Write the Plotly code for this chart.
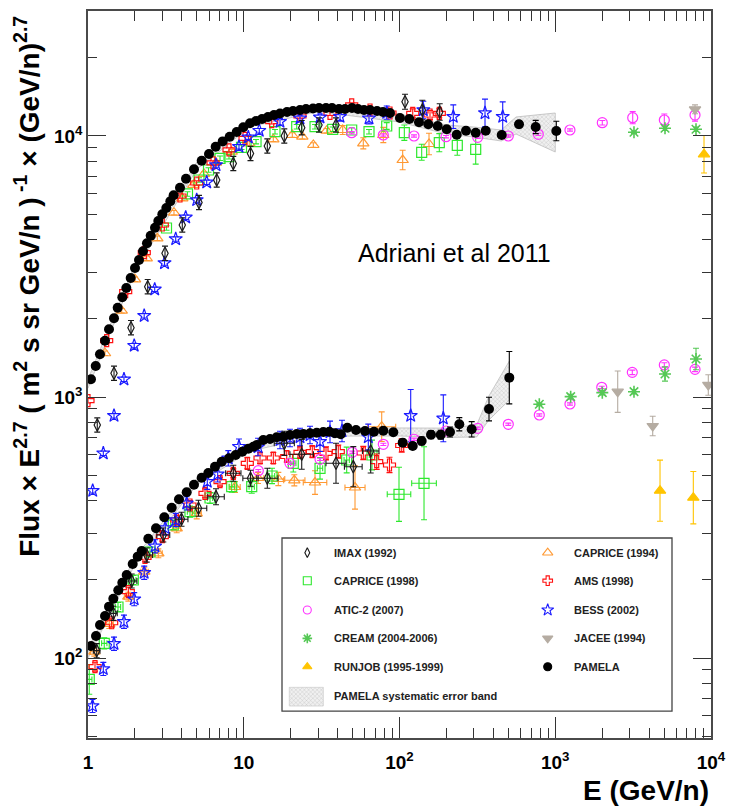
import plotly.graph_objects as go

# Cosmic-ray proton (upper group) and helium (lower group) spectra.
# Energy E in GeV/n, flux multiplied by E^2.7.
# *_err  : relative flux error of each point
# *_dE   : relative half-width of the energy bin (where drawn)

# ---------------- PAMELA ----------------
pamela_p_E = [1.045, 1.121, 1.194, 1.286, 1.364, 1.469, 1.551, 1.661, 1.762, 1.880,
              2.004, 2.126, 2.255, 2.392, 2.527, 2.693, 2.828, 3.000, 3.183, 3.377,
              3.549, 3.896, 4.258, 4.793, 5.370, 5.983, 6.604, 7.326, 8.124, 9.011,
              9.933, 10.97, 11.99, 13.10, 14.31, 15.64, 17.09, 18.95, 20.71, 22.97,
              25.10, 27.84, 30.42, 33.74, 36.87, 40.89, 44.68, 49.55, 54.15, 59.18,
              64.66, 71.72, 78.37, 86.90, 100.7, 115.6, 133.4, 153.0, 175.9, 201.0,
              233.0, 267.3, 308.5, 357.7, 453.2, 585.2, 749.0, 1016]
pamela_p_F = [1169, 1315, 1458, 1643, 1817, 2002, 2198, 2410, 2616, 2858,
              3121, 3349, 3616, 3880, 4150, 4453, 4724, 5012, 5298, 5622,
              5928, 6339, 6863, 7455, 8043, 8531, 9100, 9535, 9938, 10359,
              10797, 11187, 11415, 11618, 11825, 12033, 12193, 12359, 12468, 12578,
              12689, 12746, 12802, 12802, 12802, 12689, 12689, 12802, 12689, 12578,
              12578, 12468, 12359, 12249, 11722, 11618, 11284, 11088, 10924, 10608,
              10116, 10480, 10295, 10480, 10088, 11088, 10826, 10452]
pamela_p_err = [0.01] * 64 + [0.02, 0.03, 0.06, 0.09]

pamela_he_E = [1.045, 1.126, 1.194, 1.286, 1.364, 1.454, 1.565, 1.661, 1.772, 1.936,
               2.085, 2.212, 2.439, 2.733, 3.090, 3.447, 3.839, 4.302, 4.793, 5.370,
               5.922, 6.536, 7.218, 8.041, 8.878, 9.788, 10.70, 11.52, 12.11, 13.35,
               14.74, 16.28, 17.94, 19.81, 21.88, 24.12, 26.63, 29.41, 32.42, 35.43,
               38.54, 41.93, 46.24, 52.57, 60.05, 68.60, 78.71, 91.25, 104.8, 121.6,
               138.8, 159.3, 183.9, 211.0, 242.1, 290.8, 375.5, 507.0]
pamela_he_F = [111.2, 121.4, 133.8, 144.8, 157.3, 168.7, 181.7, 194.3, 208.0, 229.2,
               244.5, 257.0, 286.5, 314.0, 345.9, 376.6, 405.6, 431.5, 461.3, 490.8,
               511.6, 540.8, 565.1, 582.3, 599.6, 617.3, 633.9, 645.2, 655.0, 684.5,
               690.6, 701.0, 704.7, 715.3, 721.6, 721.6, 726.1, 730.0, 734.5, 736.4,
               726.1, 719.7, 762.9, 747.6, 740.9, 736.4, 743.0, 732.6, 668.4, 649.2,
               678.5, 717.2, 717.2, 734.5, 786.1, 752.0, 899.4, 1186]
pamela_he_err = [0.01] * 48 + [0.03, 0.03, 0.035, 0.035, 0.04, 0.045, 0.06, 0.07, 0.11, 0.26]

# PAMELA systematic error band
band_p_E = [1.0, 2.0, 5.0, 11.0, 30.0, 100.0, 200.0, 300.0, 450.0, 560.0, 1000.0]
band_p_lo = [1080, 3020, 7450, 10850, 12400, 11314, 10178, 9914, 9569, 10178, 8684]
band_p_hi = [1170, 3220, 7950, 11550, 13200, 12145, 11020, 10827, 10544, 11826, 12249]
band_he_E = [1.0, 2.0, 5.0, 11.0, 30.0, 100.0, 200.0, 313.0, 375.0, 507.0]
band_he_lo = [100, 228, 461, 621, 708, 709, 700, 703, 816, 974]
band_he_hi = [109, 242, 489, 659, 752, 761, 760, 781, 1009, 1373]

# ---------------- IMAX (1992) ----------------
imax_p_E = [1.147, 1.469, 1.888, 2.417, 3.122, 4.031, 5.160, 6.705, 8.568, 11.05,
            14.17, 18.21, 23.56, 30.42, 39.11, 108.5, 140.1, 181.2]
imax_p_F = [781, 1233, 1843, 2646, 3553, 4560, 5563, 6783, 7847, 8570,
            9155, 10000, 10760, 11020, 11020, 13530, 12578, 12359]
imax_p_err = [0.065] * 15 + [0.068, 0.09, 0.075]
imax_he_E = [1.137, 1.454, 1.908, 2.382, 3.044, 3.984, 5.122, 6.636, 8.568, 11.05,
             14.17, 18.21, 23.56, 39.11, 50.50, 65.33]
imax_he_F = [106.7, 148.3, 197.2, 248.0, 296.0, 340.0, 374.7, 415.0, 510.2, 488.1,
             488.1, 664.6, 603.2, 557.2, 540.8, 621.2]
imax_he_err = [0.064] * 6 + [0.073] * 4 + [0.092, 0.112, 0.141, 0.193, 0.193, 0.214]
imax_he_dE = [0.05, 0.06, 0.08, 0.09, 0.1, 0.1, 0.13, 0.13, 0.12, 0.12,
              0.17, 0.16, 0.19, 0.16, 0.14, 0.13]

# ---------------- CAPRICE (1998) ----------------
caprice98_p_E = [3.192, 4.353, 5.160, 5.939, 7.040, 8.041, 9.674, 11.99, 15.87, 21.88,
                 28.68, 37.25, 49.33, 63.71, 82.77, 107.4, 138.8, 180.1, 235.0, 308.5]
caprice98_p_F = [4441, 5997, 6784, 7407, 8215, 8331, 9051, 9511, 10387, 10854,
                 10854, 10608, 10544, 10387, 10924, 10295, 8661, 9426, 9213, 8892]
caprice98_p_err = [0.02] * 14 + [0.03, 0.07, 0.073, 0.083, 0.092, 0.14]
caprice98_he_E = [1.019, 1.272, 1.558, 1.954, 2.501, 3.528, 4.517, 6.073, 8.367, 11.25,
                  15.19, 20.80, 30.88, 45.81, 66.59, 99.27, 143.7]
caprice98_he_F = [82.8, 113.8, 156.8, 199.0, 254.8, 323.3, 363.6, 410.2, 453.2, 453.2,
                  498.2, 557.2, 533.1, 573.6, 599.6, 423.9, 467.0]
caprice98_he_err = [0.14, 0.05, 0.04, 0.04, 0.04, 0.04, 0.05, 0.05, 0.05, 0.06,
                    0.07, 0.08, 0.1, 0.12, 0.14, 0.27, 0.38]
caprice98_he_dE = [0.04] * 15 + [0.19, 0.2]

# ---------------- CAPRICE (1994) ----------------
caprice94_p_E = [1.286, 1.646, 2.004, 2.382, 2.786, 3.565, 4.031, 4.744, 5.556, 6.636,
                 8.367, 10.85, 15.48, 20.50, 23.77, 27.97, 34.08, 43.18, 58.56, 78.71,
                 104.8, 154.7]
caprice94_p_F = [1471, 2141, 2825, 3400, 4055, 5083, 5771, 6491, 7153, 7903,
                 8707, 9376, 9714, 10088, 9938, 9237, 10480, 10544, 9376, 10088,
                 8091, 9318]
caprice94_p_err = [0.02] * 17 + [0.04, 0.05, 0.07, 0.09, 0.1]
caprice94_he_E = [1.098, 1.370, 1.815, 2.298, 2.828, 3.710, 4.988, 8.786, 12.35, 16.67,
                  21.12, 28.68, 51.80, 76.86]
caprice94_he_F = [105.7, 135.0, 171.8, 214.1, 251.9, 314.0, 358.4, 452.0, 489.4, 485.1,
                  479.5, 470.3, 450.0, 769.6]
caprice94_he_err = [0.04, 0.04, 0.04, 0.04, 0.04, 0.04, 0.05, 0.05, 0.05, 0.06,
                    0.05, 0.11, 0.21, 0.14]
caprice94_he_dE = [0.06, 0.06, 0.06, 0.06, 0.06, 0.06, 0.07, 0.08, 0.09, 0.1,
                   0.17, 0.19, 0.16, 0.23]

# ---------------- AMS (1998) ----------------
ams_p_E = [1.0, 1.318, 1.746, 2.298, 3.000, 3.896, 4.988, 6.348, 8.041, 10.19,
           15.12, 22.97, 35.79, 49.33, 64.66, 86.90, 121.6, 157.0, 180.1]
ams_p_F = [968, 1643, 2532, 3573, 4560, 5890, 6605, 7882, 8840, 9799,
           11344, 11930, 12218, 13148, 12578, 12249, 12218, 12033, 12218]
ams_p_err = [0.02] * 15 + [0.03, 0.04, 0.04, 0.04]
ams_he_E = [1.109, 1.419, 1.815, 2.323, 3.000, 3.710, 4.517, 5.639, 7.040, 8.568,
            10.54, 12.72, 15.48, 18.87, 22.97, 27.55, 33.74, 40.46, 58.56, 71.38,
            86.26, 103.3]
ams_he_F = [92.6, 136.5, 179.5, 243.1, 291.6, 337.9, 385.6, 427.6, 473.7, 510.2,
            557.2, 583.8, 583.8, 591.6, 613.0, 617.3, 608.6, 617.3, 610.2, 565.1,
            548.9, 652.0]
ams_he_err = [0.04] * 10 + [0.05] * 6 + [0.06, 0.06, 0.06, 0.07, 0.07, 0.06]

# ---------------- ATIC-2 (2007) ----------------
atic_p_E = [49.33, 78.71, 123.9, 198.9, 317.7, 499.6, 778.5, 1243, 2005, 3143, 5015, 7896]
atic_p_F = [10295, 10088, 10000, 9938, 9886, 10000, 10150, 10544, 11246, 11754, 11516, 12033]
atic_p_err = [0.01] * 8 + [0.02, 0.055, 0.055, 0.055]
atic_he_E = [12.40, 19.81, 30.88, 49.77, 78.71, 123.9, 198.9, 317.7, 499.6, 790.1,
             1243, 1988, 3124, 5015, 7896]
atic_he_F = [522.0, 557.2, 577.1, 614.0, 658.8, 688.7, 740.9, 758.8, 786.1, 853.1,
             940.2, 1089, 1243, 1327, 1276]
atic_he_err = [0.01] * 12 + [0.02, 0.02, 0.02]

# ---------------- BESS (2002) ----------------
bess_p_E = [1.072, 1.254, 1.469, 1.702, 1.980, 2.295, 2.681, 3.099, 3.657, 4.239,
            4.988, 5.782, 6.636, 9.321, 10.70, 12.58, 17.09, 22.97, 30.88, 41.50,
            63.71, 82.77, 142.2, 221.5, 354.0, 459.9]
bess_p_F = [437.5, 608.6, 847.9, 1169, 1573, 2048, 2585, 3262, 4030, 4880,
            5687, 6646, 7744, 9100, 9886, 10480, 11344, 11690, 11792, 11856,
            11690, 12284, 12578, 11856, 12249, 11856]
bess_p_err = [0.02] * 16 + [0.03, 0.03, 0.03, 0.04, 0.05, 0.06, 0.08, 0.11, 0.13, 0.14]
bess_he_E = [1.069, 1.254, 1.469, 1.702, 1.980, 2.295, 2.693, 3.135, 3.657, 4.302,
             5.834, 6.803, 7.957, 9.321, 12.35, 17.09, 19.81, 22.97, 26.63, 30.88,
             35.79, 42.74, 63.05, 118.0, 191.1]
bess_he_F = [65.5, 90.8, 113.4, 137.7, 168.0, 212.2, 267.9, 314.8, 337.9, 391.4,
             473.7, 505.7, 582.3, 645.2, 643.4, 684.5, 696.7, 702.6, 715.3, 674.2,
             734.5, 740.9, 702.6, 847.9, 828.6]
bess_he_err = [0.06] * 10 + [0.07] * 4 + [0.08] * 5 + [0.09, 0.1, 0.1, 0.12, 0.26, 0.23]

# ---------------- CREAM (2004-2006) ----------------
cream_p_E = [3203, 5067, 8012]
cream_p_F = [10332, 10704, 10608]
cream_p_err = [0.01, 0.02, 0.02]
cream_he_E = [790.1, 1256, 2005, 3203, 5067, 8012]
cream_he_F = [937.6, 1003, 1039, 1048, 1225, 1398]
cream_he_err = [0.01, 0.02, 0.02, 0.02, 0.065, 0.1]

# ---------------- RUNJOB (1995-1999) ----------------
runjob_p_E = [9018]
runjob_p_F = [8510]
runjob_p_err = [0.18]
runjob_he_E = [4706, 7700]
runjob_he_F = [437.5, 411.3]
runjob_he_err = [0.31, 0.26]

# ---------------- JACEE (1994) ----------------
jacee_p_E = [7896]
jacee_p_F = [12657]
jacee_p_err = [0.04]
jacee_he_E = [2518, 4224, 9610]
jacee_he_F = [1048, 774.4, 1112]
jacee_he_err = [0.2, 0.09, 0.095]

# axis tick labels
x_tickvals = [1, 10, 100, 1000, 10000]
x_ticktext = ["1", "10", "10<sup>2</sup>", "10<sup>3</sup>", "10<sup>4</sup>"]
y_tickvals = [100, 1000, 10000]
y_ticktext = ["10<sup>2</sup>", "10<sup>3</sup>", "10<sup>4</sup>"]

FONT = "Liberation Sans, Arial, Helvetica, sans-serif"

C_IMAX = "#1a1a1a"
C_CAP98 = "#2ee82e"
C_CAP94 = "#ff9933"
C_AMS = "#ff1010"
C_ATIC = "#ff33ff"
C_BESS = "#1a1aff"
C_CREAM = "#55c855"
C_RUNJOB = "#ffc400"
C_JACEE = "#b5aca2"
C_PAMELA = "#000000"

BAND_PATTERN = dict(shape="x", fgcolor="#b4b4b4", bgcolor="#f0f0f0", size=3, solidity=0.2)


def log_sym(vals, rel):
    """Error arrays that look symmetric on a log axis."""
    up = [v * r for v, r in zip(vals, rel)]
    dn = [v * r / (1.0 + r) for v, r in zip(vals, rel)]
    return up, dn


fig = go.Figure()


def add_band(E, lo, hi):
    fig.add_trace(go.Scatter(
        x=E + E[::-1], y=hi + lo[::-1], mode="lines", fill="toself",
        line=dict(color="#bdbdbd", width=0.8),
        fillcolor="rgba(0,0,0,0)", fillpattern=BAND_PATTERN,
        showlegend=False, hoverinfo="skip"))


def add_series(E, F, rel, symbol, color, size, dE=None, lw=1.2, cap=3):
    up, dn = log_sym(F, rel)
    extra = {}
    if dE is not None:
        xu, xd = log_sym(E, dE)
        extra["error_x"] = dict(type="data", symmetric=False, array=xu, arrayminus=xd,
                                color=color, thickness=1.1, width=cap)
    fig.add_trace(go.Scatter(
        x=E, y=F, mode="markers",
        marker=dict(symbol=symbol, size=size, color=color,
                    line=dict(color=color, width=lw)),
        error_y=dict(type="data", symmetric=False, array=up, arrayminus=dn,
                     color=color, thickness=1.1, width=cap),
        showlegend=False, hoverinfo="skip", **extra))


add_band(band_p_E, band_p_lo, band_p_hi)
add_band(band_he_E, band_he_lo, band_he_hi)

add_series(caprice94_p_E, caprice94_p_F, caprice94_p_err, "triangle-up-open", C_CAP94, 10)
add_series(caprice94_he_E, caprice94_he_F, caprice94_he_err, "triangle-up-open", C_CAP94, 10,
           dE=caprice94_he_dE)
add_series(caprice98_p_E, caprice98_p_F, caprice98_p_err, "square-open", C_CAP98, 10)
add_series(caprice98_he_E, caprice98_he_F, caprice98_he_err, "square-open", C_CAP98, 10,
           dE=caprice98_he_dE)
add_series(ams_p_E, ams_p_F, ams_p_err, "cross-open", C_AMS, 10)
add_series(ams_he_E, ams_he_F, ams_he_err, "cross-open", C_AMS, 10)
add_series(bess_p_E, bess_p_F, bess_p_err, "star-open", C_BESS, 10)
add_series(bess_he_E, bess_he_F, bess_he_err, "star-open", C_BESS, 10)
add_series(atic_p_E, atic_p_F, atic_p_err, "circle-open", C_ATIC, 10)
add_series(atic_he_E, atic_he_F, atic_he_err, "circle-open", C_ATIC, 10)
add_series(cream_p_E, cream_p_F, cream_p_err, "asterisk-open", C_CREAM, 10, lw=1.6)
add_series(cream_he_E, cream_he_F, cream_he_err, "asterisk-open", C_CREAM, 10, lw=1.6)
add_series(runjob_p_E, runjob_p_F, runjob_p_err, "triangle-up", C_RUNJOB, 10)
add_series(runjob_he_E, runjob_he_F, runjob_he_err, "triangle-up", C_RUNJOB, 10)
add_series(jacee_p_E, jacee_p_F, jacee_p_err, "triangle-down", C_JACEE, 10)
add_series(jacee_he_E, jacee_he_F, jacee_he_err, "triangle-down", C_JACEE, 10)
add_series(imax_p_E, imax_p_F, imax_p_err, "diamond-tall-open", C_IMAX, 9)
add_series(imax_he_E, imax_he_F, imax_he_err, "diamond-tall-open", C_IMAX, 9, dE=imax_he_dE)
add_series(pamela_p_E, pamela_p_F, pamela_p_err, "circle", C_PAMELA, 10, lw=0)
add_series(pamela_he_E, pamela_he_F, pamela_he_err, "circle", C_PAMELA, 10, lw=0)

# ---------------- legend (drawn on a 0..1 overlay frame) ----------------
legend_rows = [0.2549, 0.2164, 0.1761, 0.1371, 0.0981]
legend_items = [
    ("IMAX (1992)", "diamond-tall-open", C_IMAX, 7, 0, 0),
    ("CAPRICE (1994)", "triangle-up-open", C_CAP94, 9, 1, 0),
    ("CAPRICE (1998)", "square-open", C_CAP98, 8, 0, 1),
    ("AMS (1998)", "cross-open", C_AMS, 8, 1, 1),
    ("ATIC-2 (2007)", "circle-open", C_ATIC, 8, 0, 2),
    ("BESS (2002)", "star-open", C_BESS, 9, 1, 2),
    ("CREAM (2004-2006)", "asterisk-open", C_CREAM, 8, 0, 3),
    ("JACEE (1994)", "triangle-down", C_JACEE, 9, 1, 3),
    ("RUNJOB (1995-1999)", "triangle-up", C_RUNJOB, 8, 0, 4),
    ("PAMELA", "circle", C_PAMELA, 8, 1, 4),
]
marker_x = [0.352, 0.7379]
text_x = [0.3912, 0.7774]
LEG_FONT = dict(family=FONT, size=11, color="#222222", weight="bold")

annotations = []
for label, sym, col, sz, c, r in legend_items:
    fig.add_trace(go.Scatter(
        x=[marker_x[c]], y=[legend_rows[r]], xaxis="x2", yaxis="y2", mode="markers",
        marker=dict(symbol=sym, size=sz, color=col,
                    line=dict(color=col, width=1.6 if "asterisk" in sym else 1.1)),
        showlegend=False, hoverinfo="skip"))
    annotations.append(dict(
        text=label, x=text_x[c], y=legend_rows[r], xref="paper", yref="paper",
        xanchor="left", yanchor="middle", showarrow=False, font=LEG_FONT))

# band swatch
sw_x0, sw_x1, sw_y0, sw_y1 = 0.3231, 0.3777, 0.0440, 0.0697
fig.add_trace(go.Scatter(
    x=[sw_x0, sw_x1, sw_x1, sw_x0, sw_x0], y=[sw_y0, sw_y0, sw_y1, sw_y1, sw_y0],
    xaxis="x2", yaxis="y2", mode="lines", fill="toself",
    line=dict(color="#cfcfcf", width=0.8), fillcolor="rgba(0,0,0,0)",
    fillpattern=BAND_PATTERN, showlegend=False, hoverinfo="skip"))
annotations.append(dict(
    text="PAMELA systematic error band", x=text_x[0], y=0.0582, xref="paper", yref="paper",
    xanchor="left", yanchor="middle", showarrow=False, font=LEG_FONT))

# titles and label
annotations.append(dict(
    text="Flux × E<sup>2.7</sup> ( m<sup>2</sup> s sr GeV/n )<sup> -1</sup> × (GeV/n)<sup>2.7</sup>",
    x=-0.099, y=0.621, xref="paper", yref="paper", textangle=-90,
    xanchor="center", yanchor="middle", showarrow=False,
    font=dict(family=FONT, size=28, color="black", weight="bold")))
annotations.append(dict(
    text="E (GeV/n)", x=1.0, y=-0.0729, xref="paper", yref="paper",
    xanchor="right", yanchor="middle", showarrow=False,
    font=dict(family=FONT, size=28, color="black", weight="bold")))
annotations.append(dict(
    text="Adriani et al 2011", x=0.589, y=0.667, xref="paper", yref="paper",
    xanchor="center", yanchor="middle", showarrow=False,
    font=dict(family=FONT, size=25, color="black")))

x_minor = [m * 10 ** k for k in range(0, 4) for m in range(2, 10)]
y_minor = [50, 60, 70, 80, 90] + [m * 10 ** k for k in (2, 3) for m in range(2, 10)] + [20000, 30000]

axis_common = dict(
    type="log", showgrid=False, zeroline=False, showline=True, linecolor="#4a4a4a",
    linewidth=1.5, mirror="ticks", ticks="inside", tickcolor="#333333", tickwidth=1,
    automargin=False,
    tickfont=dict(family=FONT, size=19, color="black", weight="bold"),
)

fig.update_layout(
    template="none",
    width=729, height=810,
    margin=dict(l=88, r=18, t=11, b=72, pad=0),
    paper_bgcolor="white", plot_bgcolor="white",
    showlegend=False,
    xaxis=dict(axis_common, range=[0, 4], tickmode="array", tickvals=x_tickvals,
               ticktext=x_ticktext, ticklen=21, ticklabelstandoff=6,
               minor=dict(tickmode="array", tickvals=x_minor, ticks="inside", ticklen=10,
                          tickcolor="#333333", tickwidth=1, showgrid=False)),
    yaxis=dict(axis_common, range=[1.6935, 4.4789], tickmode="array", tickvals=y_tickvals,
               ticktext=y_ticktext, ticklen=18,
               minor=dict(tickmode="array", tickvals=y_minor, ticks="inside", ticklen=9,
                          tickcolor="#333333", tickwidth=1, showgrid=False)),
    xaxis2=dict(overlaying="x", anchor="y2", range=[0, 1], visible=False, fixedrange=True),
    yaxis2=dict(overlaying="y", anchor="x2", range=[0, 1], visible=False, fixedrange=True),
    shapes=[dict(type="rect", xref="paper", yref="paper", x0=0.3114, x1=0.9374,
                 y0=0.0371, y1=0.2751, line=dict(color="#444444", width=1.3),
                 fillcolor="white", layer="below")],
    annotations=annotations,
)

fig.write_html("out.html")
